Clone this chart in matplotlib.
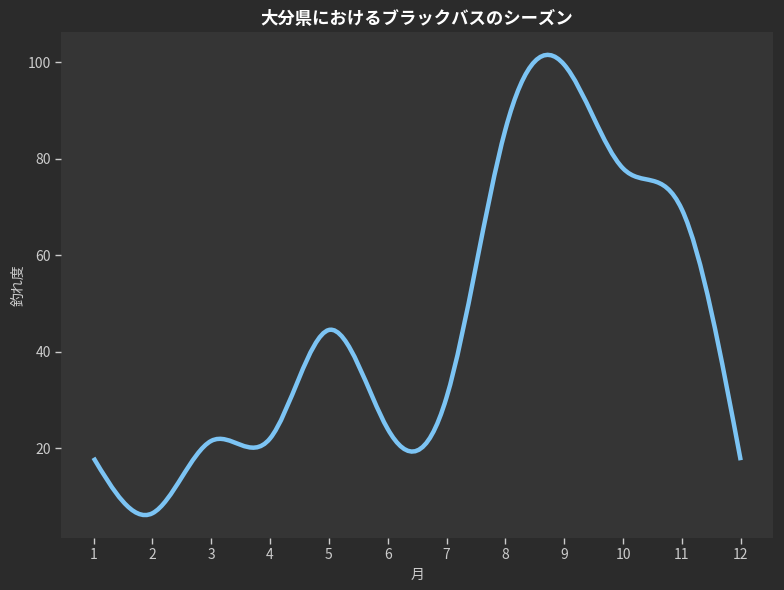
import matplotlib

matplotlib.use("Agg")
import numpy as np
from matplotlib import pyplot as plt  # noqa: E402
from matplotlib.patches import PathPatch  # noqa: E402
from matplotlib.path import Path  # noqa: E402

months = [1, 2, 3, 4, 5, 6, 7, 8, 9, 10, 11, 12]
catch_rate = [18, 6.5, 21.5, 22, 44.5, 24, 30.5, 86, 99.5, 78, 69.5, 17.5]

title = "大分県におけるブラックバスのシーズン"
x_label = "月"
y_label = "釣れ度"

FIG_BG = "#2b2b2b"
AX_BG = "#353535"
LINE = "#7cc4f4"
TEXT = "#cccccc"


def spline_path(x, y):
    # natural cubic spline written as bezier segments
    x = np.asarray(x, dtype=float)
    y = np.asarray(y, dtype=float)
    n = len(x)
    h = np.diff(x)
    a = np.zeros((n, n))
    b = np.zeros(n)
    a[0, 0] = 1.0
    a[-1, -1] = 1.0
    for i in range(1, n - 1):
        a[i, i - 1] = h[i - 1]
        a[i, i] = 2 * (h[i - 1] + h[i])
        a[i, i + 1] = h[i]
        b[i] = 6 * ((y[i + 1] - y[i]) / h[i] - (y[i] - y[i - 1]) / h[i - 1])
    m2 = np.linalg.solve(a, b)
    slope = np.empty(n)
    slope[:-1] = np.diff(y) / h - h * (2 * m2[:-1] + m2[1:]) / 6
    slope[-1] = (y[-1] - y[-2]) / h[-1] + h[-1] * (m2[-2] + 2 * m2[-1]) / 6
    verts = [(x[0], y[0])]
    codes = [Path.MOVETO]
    for i in range(n - 1):
        verts += [
            (x[i] + h[i] / 3, y[i] + slope[i] * h[i] / 3),
            (x[i + 1] - h[i] / 3, y[i + 1] - slope[i + 1] * h[i] / 3),
            (x[i + 1], y[i + 1]),
        ]
        codes += [Path.CURVE4] * 3
    return Path(verts, codes)


plt.rcParams["font.family"] = ["Noto Sans CJK JP", "DejaVu Sans"]

fig, ax = plt.subplots(figsize=(7.84, 5.9), dpi=100)
fig.patch.set_facecolor(FIG_BG)
ax.set_facecolor(AX_BG)

curve = PathPatch(
    spline_path(months, catch_rate),
    facecolor="none",
    edgecolor=LINE,
    linewidth=3.2,
    capstyle="butt",
)
ax.add_patch(curve)
ax.autoscale_view()

ax.set_xticks(months)
ax.set_yticks([20, 40, 60, 80, 100])
for spine in ax.spines.values():
    spine.set_visible(False)
ax.tick_params(colors=TEXT, labelcolor=TEXT, labelsize=10, length=4, width=1)

ax.set_title(title, color="white", fontsize=12.5, fontweight="bold", pad=6)
ax.set_xlabel(x_label, color=TEXT, fontsize=10, labelpad=4)
ax.set_ylabel(y_label, color=TEXT, fontsize=10, labelpad=1)

fig.subplots_adjust(left=0.078, right=0.986, top=0.946, bottom=0.088)
fig.savefig("out.png", facecolor=FIG_BG)
plt.close(fig)
